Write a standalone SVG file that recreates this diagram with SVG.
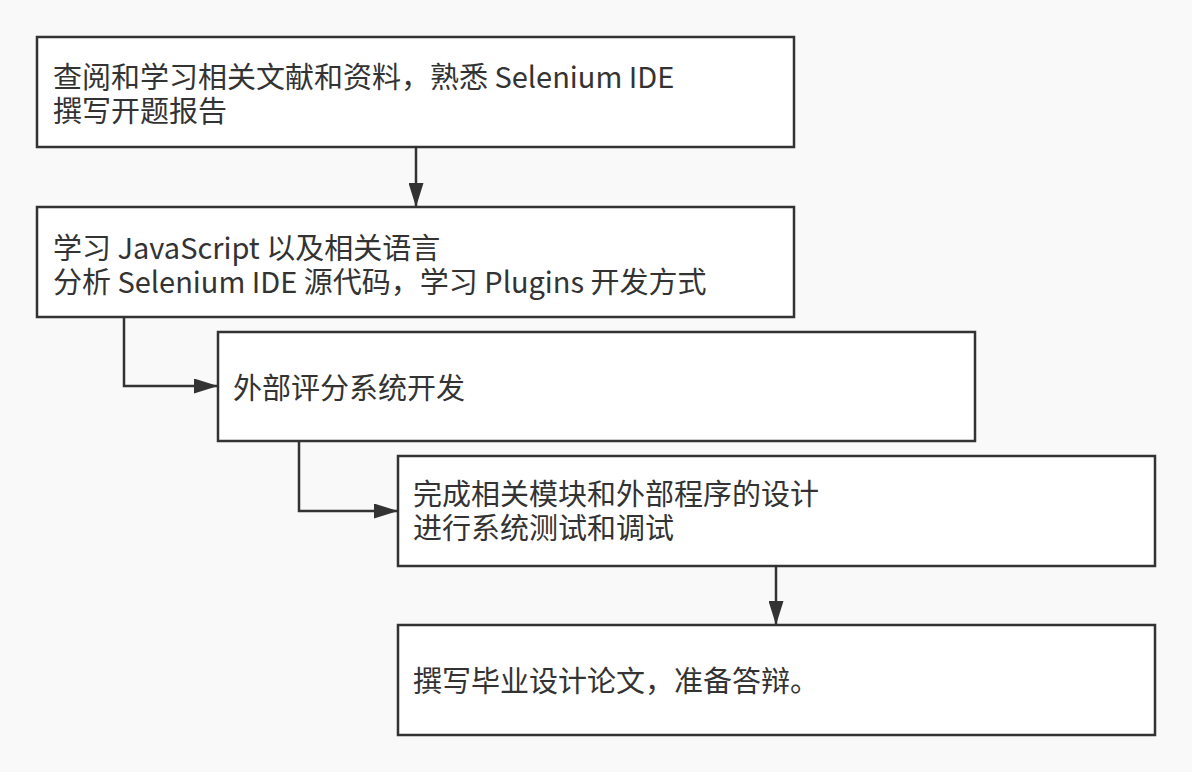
<svg xmlns="http://www.w3.org/2000/svg" width="1192" height="772" viewBox="0 0 1192 772">
<defs>
<style>
.box{fill:#ffffff;stroke:#333333;stroke-width:2.5}
.lbl{font-family:"Noto Sans CJK SC","Noto Sans",sans-serif;font-size:29px;fill:#333333}
.edge{fill:none;stroke:#333333;stroke-width:2.5}
</style>
<marker id="arr" viewBox="0 0 24 15" refX="24" refY="7.5" markerWidth="24" markerHeight="15" markerUnits="userSpaceOnUse" orient="auto">
<path d="M0,0 L24,7.5 L0,15 Z" fill="#333333"/>
</marker>
</defs>
<rect x="0" y="0" width="1192" height="772" fill="#f9f9f9"/>
<g id="connectors">
<path class="edge" d="M416,147 V207" marker-end="url(#arr)"/>
<path class="edge" d="M124,317 V386 H218" marker-end="url(#arr)"/>
<path class="edge" d="M299,441 V511 H398" marker-end="url(#arr)"/>
<path class="edge" d="M776,566 V625" marker-end="url(#arr)"/>
</g>
<g id="node1">
<rect class="box" x="37" y="37" width="757" height="110"/>
<text class="lbl"><tspan x="53" y="88">查阅和学习相关文献和资料，熟悉 Selenium IDE</tspan><tspan x="53" y="122">撰写开题报告</tspan></text>
</g>
<g id="node2">
<rect class="box" x="37" y="207" width="757" height="110"/>
<text class="lbl"><tspan x="53" y="259">学习 JavaScript 以及相关语言</tspan><tspan x="53" y="293">分析 Selenium IDE 源代码，学习 Plugins 开发方式</tspan></text>
</g>
<g id="node3">
<rect class="box" x="218" y="332" width="757" height="109"/>
<text class="lbl" x="233" y="399">外部评分系统开发</text>
</g>
<g id="node4">
<rect class="box" x="398" y="456" width="757" height="110"/>
<text class="lbl"><tspan x="413" y="505">完成相关模块和外部程序的设计</tspan><tspan x="413" y="539">进行系统测试和调试</tspan></text>
</g>
<g id="node5">
<rect class="box" x="398" y="625" width="757" height="110"/>
<text class="lbl" x="413" y="692">撰写毕业设计论文，准备答辩。</text>
</g>
</svg>
